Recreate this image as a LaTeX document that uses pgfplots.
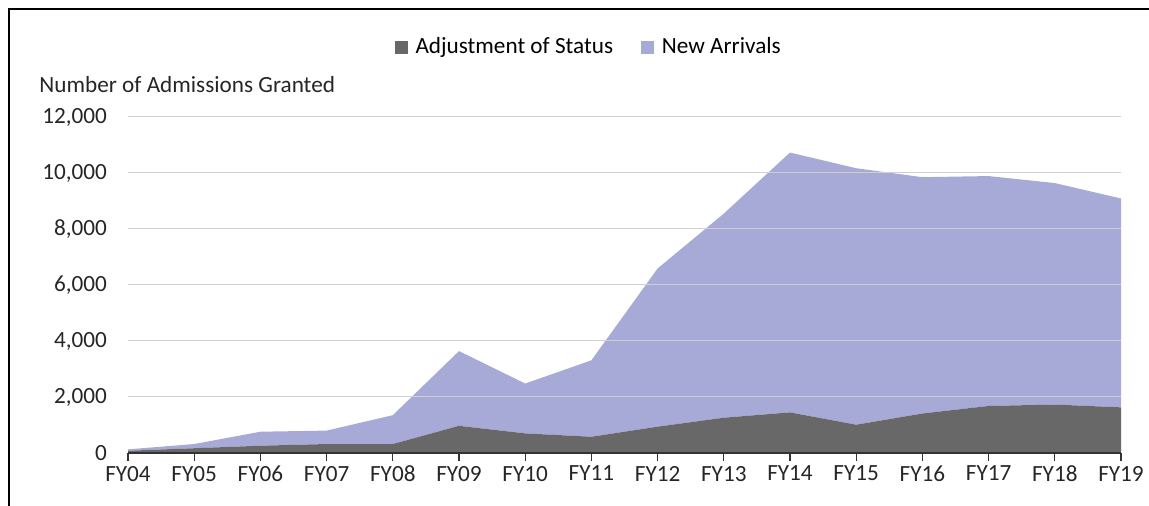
\documentclass[border=0pt]{standalone}
\usepackage{fontspec}
\setmainfont{Carlito}
\usepackage{pgfplots}
\pgfplotsset{compat=1.18}
\definecolor{adjust}{HTML}{686868}
\definecolor{arrivals}{HTML}{A7AAD7}
\definecolor{gridgray}{HTML}{D0D0D0}
\newcommand\chartfont{\fontsize{11.6pt}{14pt}\selectfont}

\begin{document}
\begin{tikzpicture}
\useasboundingbox (0,0) rectangle (574.5pt,253pt);
\draw[black, line width=1pt] (4.5pt,0) -- (4.5pt,248.5pt) -- (576pt,248.5pt);
\begin{axis}[
    at={(64pt,26.5pt)}, anchor=south west,
    scale only axis, width=496.5pt, height=168pt,
    stack plots=y,
    xmin=0, xmax=15, ymin=0, ymax=12000,
    xtick={0,...,15},
    xticklabels={FY04,FY05,FY06,FY07,FY08,FY09,FY10,FY11,FY12,FY13,FY14,FY15,FY16,FY17,FY18,FY19},
    ytick={0,2000,...,12000},
    scaled y ticks=false,
    /pgf/number format/.cd, 1000 sep={,}, assume math mode=true, /pgfplots/.cd,
    ymajorgrids, grid style={gridgray, line width=0.5pt},
    axis x line*=bottom, axis y line*=left,
    y axis line style={draw=none},
    ytick style={draw=none},
    x axis line style={black!80, line width=0.8pt},
    xtick style={black!80, line width=0.6pt},
    tick align=outside, major tick length=4pt,
    tick label style={font=\chartfont, text=black!85},
    yticklabel style={xshift=-3pt},
    xticklabel style={yshift=1pt},
    axis on top,
    legend style={at={(axis description cs:0.465,1.208)}, anchor=center,
        draw=none, fill=none, font=\chartfont, legend columns=2,
        /tikz/every even column/.append style={column sep=12pt}},
    legend image code/.code={\fill[#1] (0pt,-3.2pt) rectangle (6.4pt,3.2pt); \path (8.4pt,0pt);},
    clip=false,
]
\addplot[fill=adjust, draw=none] coordinates {
 (0,80)(1,170)(2,260)(3,320)(4,320)(5,970)(6,700)(7,580)(8,940)(9,1260)
 (10,1450)(11,1010)(12,1410)(13,1680)(14,1730)(15,1630)} \closedcycle;
\addlegendentry{Adjustment of Status}
\addplot[fill=arrivals, draw=none] coordinates {
 (0,50)(1,150)(2,500)(3,480)(4,1030)(5,2670)(6,1780)(7,2730)(8,5650)(9,7290)
 (10,9280)(11,9160)(12,8440)(13,8210)(14,7910)(15,7460)} \closedcycle;
\addlegendentry{New Arrivals}
\node[anchor=west, inner sep=0pt, font=\chartfont, text=black!85] at (axis description cs:-0.0896,1.098) {Number of Admissions Granted};
\end{axis}
\end{tikzpicture}
\end{document}
